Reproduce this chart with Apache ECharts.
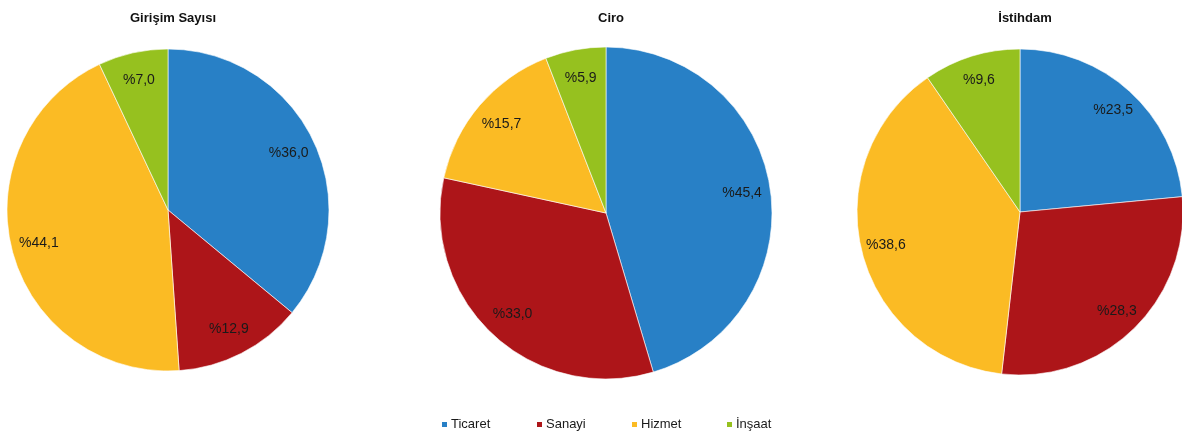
<!DOCTYPE html>
<html><head><meta charset="utf-8">
<script src="https://cdn.jsdelivr.net/npm/echarts@6/dist/echarts.min.js"></script>
<style>html,body{margin:0;padding:0;background:#fff}#c{width:1182px;height:435px}</style>
</head><body><div id="c"></div>
<script>
const categories = ['Ticaret', 'Sanayi', 'Hizmet', 'İnşaat'];
const titles = ['Girişim Sayısı', 'Ciro', 'İstihdam'];
const girisimValues = [36.0, 12.9, 44.1, 7.0];
const ciroValues = [45.4, 33.0, 15.7, 5.9];
const istihdamValues = [23.5, 28.3, 38.6, 9.6];
const colors = ['#2880c6', '#ad1519', '#fbbb24', '#96c11f'];

const valuesList = [girisimValues, ciroValues, istihdamValues];
const centers = [[168, 210], [606, 213], [1020, 212]];
const radii = [161, 166, 163];
const labelInner = [0.62, 0.62, 0.66];
const legendLefts = [440, 535, 630, 725];

const chart = echarts.init(document.getElementById('c'), null, {renderer: 'canvas'});
const series = [];
valuesList.forEach((vals, i) => {
  const data = categories.map((c, j) => ({name: c, value: vals[j]}));
  series.push({
    type: 'pie', center: centers[i], radius: [0, radii[i]], startAngle: 90, clockwise: true,
    data: data, label: {show: false}, labelLine: {show: false},
    itemStyle: {borderColor: '#fff', borderWidth: 0.6}, emphasis: {disabled: true}, animation: false
  });
  series.push({
    type: 'pie', center: centers[i], radius: [radii[i] * labelInner[i], radii[i]], startAngle: 90, clockwise: true,
    data: data.map(d => ({name: d.name, value: d.value})),
    itemStyle: {color: 'rgba(0,0,0,0)'},
    label: {show: true, position: 'inside', fontFamily: 'Liberation Sans, Arial', fontSize: 14, color: '#1a1a1a',
      formatter: p => '%' + p.value.toFixed(1).replace('.', ',')},
    labelLine: {show: false}, emphasis: {disabled: true}, legendHoverLink: false, animation: false, silent: true
  });
});

chart.setOption({
  color: colors,
  title: titles.map((t, i) => ({
    text: t, left: centers[i][0], top: 7, textAlign: 'center',
    textStyle: {fontFamily: 'Liberation Sans, Arial', fontSize: 13, fontWeight: 'bold', color: '#111'}
  })),
  legend: categories.map((c, j) => ({
    data: [c], left: legendLefts[j], top: 418, itemWidth: 7, itemHeight: 7, icon: 'rect', padding: 0,
    selectedMode: false,
    textStyle: {fontFamily: 'Liberation Sans, Arial', fontSize: 13, color: '#1a1a1a', padding: [0, 0, 0, -2]}
  })),
  series: series
});
</script></body></html>
